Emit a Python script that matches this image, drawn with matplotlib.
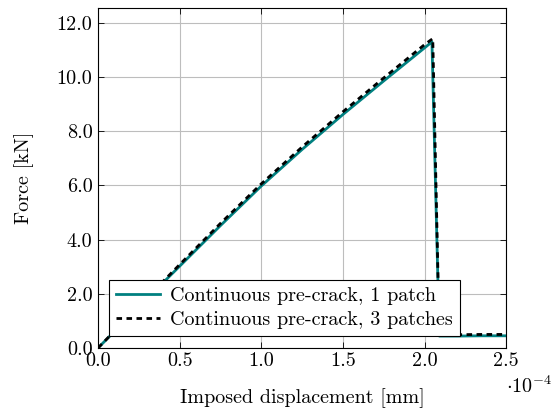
import matplotlib
matplotlib.use("Agg")
import matplotlib.pyplot as plt
from matplotlib.ticker import FuncFormatter, MultipleLocator

plt.rcParams["font.family"] = "serif"
plt.rcParams["font.serif"] = ["cmr10"]
plt.rcParams["mathtext.fontset"] = "cm"
plt.rcParams["axes.formatter.use_mathtext"] = True

# displacement [mm] and force [kN]
disp_1 = [0.0, 0.25e-4, 0.5e-4, 0.75e-4, 1.0e-4, 1.25e-4, 1.5e-4, 1.75e-4, 2.0e-4, 2.045e-4,
          2.09e-4, 2.2e-4, 2.35e-4, 2.5e-4]
force_1 = [0.0, 1.52, 3.02, 4.52, 5.98, 7.33, 8.62, 9.86, 11.08, 11.30,
           0.44, 0.44, 0.45, 0.45]
disp_3 = [0.0, 0.25e-4, 0.5e-4, 0.75e-4, 1.0e-4, 1.25e-4, 1.5e-4, 1.75e-4, 2.0e-4, 2.05e-4,
          2.09e-4, 2.2e-4, 2.35e-4, 2.5e-4]
force_3 = [0.0, 1.55, 3.08, 4.60, 6.06, 7.42, 8.72, 9.97, 11.20, 11.42,
           0.48, 0.49, 0.50, 0.50]
labels = ["Continuous pre-crack, 1 patch", "Continuous pre-crack, 3 patches"]

FS = 14.5

fig = plt.figure(figsize=(5.56, 4.11), dpi=100)
ax = fig.add_axes([0.1763, 0.1533, 0.7342, 0.8272])

ax.plot(disp_1, force_1, color="teal", lw=2.0, label=labels[0])
ax.plot(disp_3, force_3, color="black", lw=2.0, dashes=(2, 1.6), label=labels[1])

ax.set_xlim(0, 2.5e-4)
ax.set_ylim(0, 12.55)
ax.xaxis.set_major_locator(MultipleLocator(0.5e-4))
ax.yaxis.set_major_locator(MultipleLocator(2.0))
ax.xaxis.set_major_formatter(FuncFormatter(lambda v, p: f"{v / 1e-4:.1f}"))
ax.yaxis.set_major_formatter(FuncFormatter(lambda v, p: f"{v:.1f}"))
ax.tick_params(direction="in", top=True, right=True, labelsize=FS, length=4, width=0.6, pad=3)
ax.tick_params(axis="y", pad=4)
ax.grid(True, color="#bdbdbd", lw=0.8)
ax.set_axisbelow(True)
for s in ax.spines.values():
    s.set_linewidth(0.8)

ax.set_xlabel("Imposed displacement [mm]", fontsize=FS, labelpad=13)
ax.set_ylabel("Force [kN]", fontsize=FS, labelpad=16)
ax.text(1.0, -0.08, r"$\cdot 10^{-4}$", transform=ax.transAxes, fontsize=FS, ha="left", va="top")

leg = ax.legend(loc="lower left", bbox_to_anchor=(0.027, 0.035), fontsize=FS, frameon=True,
                fancybox=False, framealpha=1, edgecolor="black", handlelength=2.2,
                borderpad=0.35, labelspacing=0.3, handletextpad=0.5, borderaxespad=0)
leg.get_frame().set_linewidth(0.8)

fig.savefig("out.png", dpi=100)
